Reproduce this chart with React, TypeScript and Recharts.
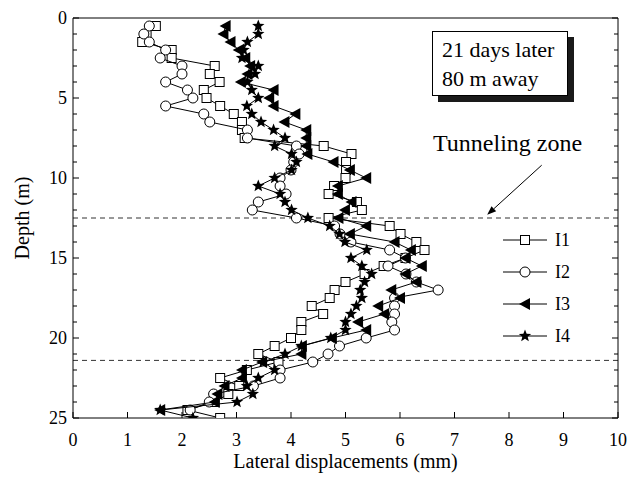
import React from 'react';
import { ScatterChart, Scatter, XAxis, YAxis, ReferenceLine, Legend } from 'recharts';

// depth of each reading (m)
const depths = [
  0.5, 1, 1.5, 2, 2.5, 3, 3.5, 4, 4.5, 5, 5.5, 6, 6.5, 7, 7.5, 8, 8.5, 9, 9.5, 10,
  10.5, 11, 11.5, 12, 12.5, 13, 13.5, 14, 14.5, 15, 15.5, 16, 16.5, 17, 17.5, 18, 18.5, 19, 19.5, 20,
  20.5, 21, 21.5, 22, 22.5, 23, 23.5, 24, 24.5, 25,
];

// lateral displacement (mm) per inclinometer
const i1 = [
  1.52, 1.35, 1.27, 1.81, 1.81, 2.6, 2.51, 2.69, 2.4, 2.45, 2.7, 2.95, 3.1, 3.1, 3.15, 4.6, 5.11, 5.01, 5.01, 5.0,
  4.79, 4.69, 5.21, 5.3, 4.69, 5.81, 6.01, 6.3, 6.45, 6.1, 5.7, 5.35, 5.0, 4.8, 4.71, 4.38, 4.59, 4.19, 4.19, 4.0,
  3.7, 3.4, 3.77, 3.19, 2.7, 3.05, 2.85, 2.6, 2.1, 2.7,
];
const i2 = [
  1.4, 1.3, 1.4, 1.7, 1.6, 2.0, 2.0, 1.7, 2.1, 2.2, 1.7, 2.4, 2.51, 3.2, 3.2, 4.1, 4.15, 4.05, 4.0, 3.8,
  3.8, 3.91, 3.4, 3.29, 4.1, 4.8, 4.9, 5.1, 5.81, 6.1, 5.78, 6.11, 6.3, 6.7, 5.9, 5.9, 5.9, 5.85, 5.9, 5.38,
  4.89, 4.68, 4.4, 3.8, 3.8, 3.31, 2.58, 2.5, 2.15, null,
];
const i3 = [
  2.8, 2.76, 2.89, 3.04, 3.16, 3.25, 3.2, 3.08, 3.68, 3.6, 3.68, 4.08, 3.88, 4.28, 4.28, 4.28, 4.3, 4.78, 5.08, 5.38,
  4.86, 4.86, 5.11, 4.99, 4.87, 5.38, 5.08, 5.9, 6.2, 6.1, 6.4, 6.1, 6.3, 5.84, 6.0, 5.6, 5.71, 5.23, 5.38, 4.75,
  4.2, 4.19, 3.47, 3.1, 3.1, 2.78, 2.65, 2.6, 1.6, null,
];
const i4 = [
  3.4, 3.4, 3.2, 3.13, 3.1, 3.4, 3.34, 3.2, 3.28, 3.4, 3.19, 3.28, 3.45, 3.68, 3.89, 3.7, 4.01, 4.1, 4.01, 3.7,
  3.4, 3.8, 3.89, 4.01, 4.31, 4.71, 4.89, 4.99, 5.39, 5.1, 5.3, 5.48, 5.35, 5.27, 5.3, 5.2, 5.1, 5.0, 5.0, 4.73,
  4.19, 3.89, 3.49, 3.7, 3.4, 3.19, 3.3, 3.01, 1.6, 2.2,
];

const xTicks = [0, 1, 2, 3, 4, 5, 6, 7, 8, 9, 10];
const yTicks = [
  0, 1, 2, 3, 4, 5, 6, 7, 8, 9, 10, 11, 12, 13, 14, 15, 16, 17, 18, 19, 20, 21, 22, 23, 24, 25,
];
const zoneLimits = [12.5, 21.4];

const serif = '"Liberation Serif", "Times New Roman", serif';

const toPoints = (vals: (number | null)[]) =>
  depths.map((d, i) => ({ x: vals[i], y: d })).filter((p) => p.x != null);

// markers
const Square = ({ cx, cy }: any) => (
  <rect x={cx - 4.5} y={cy - 4.5} width={9} height={9} fill="#fff" stroke="#000" strokeWidth={1} />
);
const Circle = ({ cx, cy }: any) => <circle cx={cx} cy={cy} r={5} fill="#fff" stroke="#000" strokeWidth={1} />;
const LeftTri = ({ cx, cy }: any) => (
  <polygon points={`${cx - 6},${cy} ${cx + 5},${cy - 6} ${cx + 5},${cy + 6}`} fill="#000" />
);
const Star = ({ cx, cy }: any) => {
  const pts: string[] = [];
  for (let k = 0; k < 10; k++) {
    const r = k % 2 === 0 ? 6.5 : 2.8;
    const a = -Math.PI / 2 + (k * Math.PI) / 5;
    pts.push(`${cx + r * Math.cos(a)},${cy + r * Math.sin(a)}`);
  }
  return <polygon points={pts.join(' ')} fill="#000" />;
};

const series = [
  { name: 'I1', data: toPoints(i1), Shape: Square },
  { name: 'I2', data: toPoints(i2), Shape: Circle },
  { name: 'I3', data: toPoints(i3), Shape: LeftTri },
  { name: 'I4', data: toPoints(i4), Shape: Star },
];

// inward ticks
const BottomTick = ({ x, y, payload }: any) => (
  <g>
    <line x1={x} y1={y} x2={x} y2={y - 6} stroke="#000" />
    <text x={x} y={y + 28} textAnchor="middle" fontSize={18} fontFamily={serif} fill="#000">
      {payload.value}
    </text>
  </g>
);
const TopTick = ({ x, y }: any) => <line x1={x} y1={y} x2={x} y2={y + 6} stroke="#000" />;
const LeftTick = ({ x, y, payload }: any) => {
  const major = payload.value % 5 === 0;
  return (
    <g>
      <line x1={x} y1={y} x2={x + (major ? 6 : 4)} y2={y} stroke="#000" />
      {major && (
        <text x={x - 6} y={y + 6} textAnchor="end" fontSize={18} fontFamily={serif} fill="#000">
          {payload.value}
        </text>
      )}
    </g>
  );
};
const RightTick = ({ x, y, payload }: any) => {
  const major = payload.value % 5 === 0;
  return <line x1={x} y1={y} x2={x - (major ? 6 : 4)} y2={y} stroke="#000" />;
};

const Arrow = (props: any) => {
  const { x1, y1, x2, y2 } = props;
  const ang = Math.atan2(y2 - y1, x2 - x1);
  const len = 9;
  const w = 3.5;
  const bx = x2 - len * Math.cos(ang);
  const by = y2 - len * Math.sin(ang);
  const px = -Math.sin(ang) * w;
  const py = Math.cos(ang) * w;
  return (
    <g>
      <line x1={x1} y1={y1} x2={bx} y2={by} stroke="#000" strokeWidth={1} />
      <polygon points={`${x2},${y2} ${bx + px},${by + py} ${bx - px},${by - py}`} fill="#000" />
    </g>
  );
};

const LegendBox = () => (
  <svg width={110} height={125} style={{ overflow: 'visible' }}>
    {series.map((s, k) => {
      const cy = 10 + k * 32;
      const Shape = s.Shape;
      return (
        <g key={s.name}>
          <line x1={0} x2={44} y1={cy} y2={cy} stroke="#000" />
          <Shape cx={22} cy={cy} />
          <text x={52} y={cy + 6} fontSize={18} fontFamily={serif} fill="#000">
            {s.name}
          </text>
        </g>
      );
    })}
  </svg>
);

export default function App() {
  return (
    <div style={{ position: 'absolute', left: 0, top: 0, width: 630, height: 478, background: '#fff' }}>
      <ScatterChart width={630} height={478} margin={{ top: 0, right: 0, bottom: 0, left: 0 }}>
        <XAxis
          xAxisId="b"
          type="number"
          dataKey="x"
          domain={[0, 10]}
          allowDataOverflow
          ticks={xTicks}
          interval={0}
          height={60}
          tickSize={0}
          tickMargin={0}
          tickLine={false}
          tick={BottomTick}
          axisLine={{ stroke: '#000' }}
          label={{
            value: 'Lateral displacements (mm)',
            position: 'insideBottom',
            offset: 10,
            style: { fontSize: 20, fontFamily: serif, fill: '#000' },
          }}
        />
        <XAxis
          xAxisId="t"
          orientation="top"
          type="number"
          domain={[0, 10]}
          allowDataOverflow
          ticks={xTicks}
          interval={0}
          height={18}
          tickSize={0}
          tickMargin={0}
          tickLine={false}
          tick={TopTick}
          axisLine={{ stroke: '#000' }}
        />
        <YAxis
          yAxisId="l"
          type="number"
          dataKey="y"
          domain={[0, 25]}
          allowDataOverflow
          reversed
          ticks={yTicks}
          interval={0}
          width={73}
          tickSize={0}
          tickMargin={0}
          tickLine={false}
          tick={LeftTick}
          axisLine={{ stroke: '#000' }}
          label={{
            value: 'Depth (m)',
            angle: -90,
            position: 'insideLeft',
            offset: 22,
            style: { fontSize: 20, fontFamily: serif, fill: '#000', textAnchor: 'middle' },
          }}
        />
        <YAxis
          yAxisId="r"
          orientation="right"
          type="number"
          domain={[0, 25]}
          allowDataOverflow
          reversed
          ticks={yTicks}
          interval={0}
          width={12}
          tickSize={0}
          tickMargin={0}
          tickLine={false}
          tick={RightTick}
          axisLine={{ stroke: '#000' }}
        />
        {zoneLimits.map((d) => (
          <ReferenceLine key={d} xAxisId="b" yAxisId="l" y={d} stroke="#333" strokeDasharray="5 4" />
        ))}
        <ReferenceLine
          xAxisId="b"
          yAxisId="l"
          segment={[
            { x: 8.6, y: 9.2 },
            { x: 7.6, y: 12.3 },
          ]}
          shape={Arrow}
        />
        {series.map((s) => (
          <Scatter
            key={s.name}
            name={s.name}
            xAxisId="b"
            yAxisId="l"
            data={s.data}
            line={{ stroke: '#000', strokeWidth: 1 }}
            shape={s.Shape}
            isAnimationActive={false}
          />
        ))}
        <Legend
          layout="vertical"
          align="center"
          verticalAlign="middle"
          content={LegendBox}
          wrapperStyle={{ position: 'absolute', left: 503, top: 230, width: 110 }}
        />
      </ScatterChart>
      <div
        style={{
          position: 'absolute',
          left: 432,
          top: 31,
          width: 136,
          height: 65,
          border: '1px solid #000',
          background: '#fff',
          boxShadow: '6px 6px 0 #1a1a1a',
          fontFamily: serif,
          fontSize: 22,
          lineHeight: '29px',
          padding: '3px 0 0 9px',
          boxSizing: 'border-box',
          color: '#000',
          whiteSpace: 'nowrap',
        }}
      >
        <div>21 days later</div>
        <div>80 m away</div>
      </div>
      <div
        style={{
          position: 'absolute',
          left: 433,
          top: 131,
          fontFamily: serif,
          fontSize: 24,
          lineHeight: '24px',
          color: '#000',
          whiteSpace: 'nowrap',
        }}
      >
        Tunneling zone
      </div>
    </div>
  );
}
